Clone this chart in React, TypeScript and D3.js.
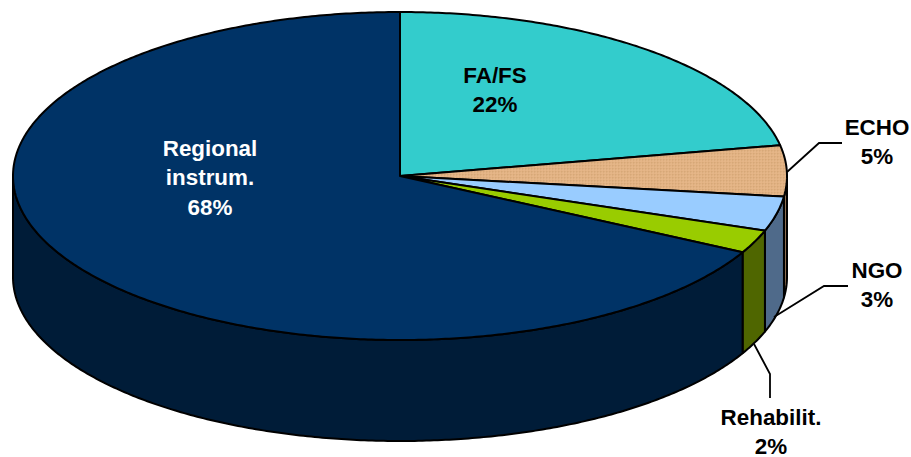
import React from "react";
import * as d3 from "d3";

const W = 911, H = 457;
const categories = ["FA/FS", "ECHO", "NGO", "Rehabilit.", "Regional instrum."];
const values = [22, 5, 3.4, 2.3, 67.3];
const percentLabels = ["22%", "5%", "3%", "2%", "68%"];
const topColors = ["#33CCCC", "#E2B88E", "#99CCFF", "#99CC00", "#003366"];
const sideColors = ["#1F7A7A", "#8C6E52", "#4F6A8A", "#4F6600", "#001C38"];

const labelLines: string[][] = [["FA/FS"], ["ECHO"], ["NGO"], ["Rehabilit."], ["Regional", "instrum."]];
const labelAnchors: [number, number][] = [[495, 83], [877, 135], [877, 278], [771, 425], [210, 156]];
const labelColors = ["#000", "#000", "#000", "#000", "#fff"];
const leaderLines: [number, number][][] = [
  [[787, 172], [819, 143], [842, 143]],
  [[774, 317], [824, 286], [848, 286]],
  [[754, 344], [770, 374], [770, 398]],
];

const cx = 400, cy = 176, rx = 387, ry = 164, depth = 101;
const px = (t: number) => cx + rx * Math.sin(t);
const py = (t: number, d = 0) => cy - ry * Math.cos(t) + d;

const pie = d3.pie<number>().sort(null).value((v) => v);
const slices = pie(values);
const line = d3.line<[number, number]>();

function arcPts(a: number, b: number, d = 0): [number, number][] {
  const n = Math.max(2, Math.ceil(Math.abs(b - a) / 0.01));
  return d3.range(n + 1).map((i) => {
    const t = a + ((b - a) * i) / n;
    return [px(t), py(t, d)] as [number, number];
  });
}

export default function App() {
  const labelFont = 'Arial, "Liberation Sans", sans-serif';
  const L = Math.PI / 2, R = (3 * Math.PI) / 2;
  return (
    <svg width={W} height={H} viewBox={`0 0 ${W} ${H}`} style={{ position: "absolute", left: 0, top: 0, background: "#fff" }}>
      <defs>
        <pattern id="dots" width="3" height="3" patternUnits="userSpaceOnUse">
          <rect width="3" height="3" fill="#E3B283" />
          <rect x="0" y="0" width="1.5" height="1.5" fill="#D6A878" />
          <rect x="1.5" y="1.5" width="1" height="1" fill="#EBC398" />
        </pattern>
      </defs>
      {slices.map((s, i) => {
        const a = Math.max(s.startAngle, L), b = Math.min(s.endAngle, R);
        if (b <= a) return null;
        const pts = [...arcPts(a, b), ...arcPts(b, a, depth)];
        return <path key={"side" + i} d={(line(pts) ?? "") + "Z"} fill={sideColors[i]} stroke="#000" strokeWidth={2} strokeLinejoin="round" />;
      })}
      {slices.map((s, i) => {
        const pts: [number, number][] = [[cx, cy], ...arcPts(s.startAngle, s.endAngle)];
        return <path key={"top" + i} d={(line(pts) ?? "") + "Z"} fill={i === 1 ? "url(#dots)" : topColors[i]} stroke="#000" strokeWidth={2} strokeLinejoin="round" />;
      })}
      {leaderLines.map((l, i) => (
        <path key={"lead" + i} d={line(l) ?? ""} fill="none" stroke="#000" strokeWidth={1.8} />
      ))}
      {categories.map((c, i) => {
        const [x, y] = labelAnchors[i];
        const lines = [...labelLines[i], percentLabels[i]];
        return (
          <text key={c} x={x} textAnchor="middle" fontFamily={labelFont} fontWeight="bold" fontSize={22.4} fill={labelColors[i]}>
            {lines.map((t, j) => (
              <tspan key={j} x={x} y={y + j * 29.3}>{t}</tspan>
            ))}
          </text>
        );
      })}
    </svg>
  );
}
